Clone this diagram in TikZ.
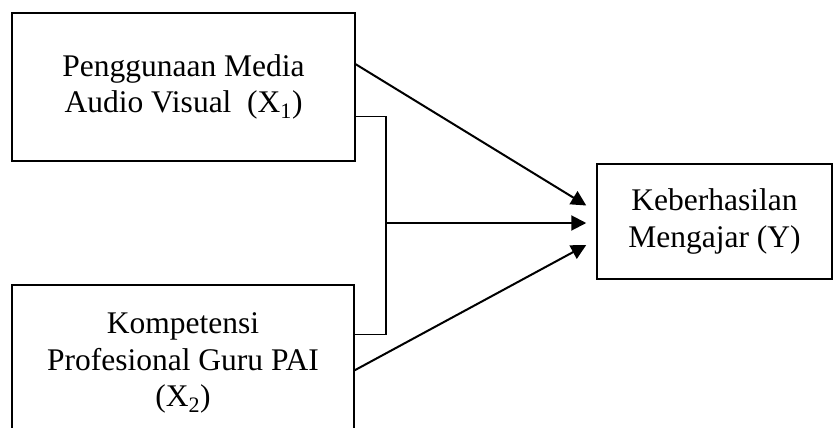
\documentclass[tikz,border=0pt]{standalone}
\usepackage{fontspec}
\setmainfont{Liberation Serif}
\usetikzlibrary{arrows.meta, positioning, calc}

\begin{document}
\begin{tikzpicture}[x=1pt, y=-1pt,
    varbox/.style={draw, line width=1.5pt, align=center, inner sep=0pt,
      font=\fontsize{31.5}{36.5}\selectfont},
    link/.style={line width=2pt, -{Triangle[length=15pt, width=15pt]}},
    bracket/.style={line width=1.3pt}]
  \useasboundingbox (0,0) rectangle (835,428);
  % the three variables
  \node[varbox, minimum width=343pt, minimum height=148pt] (x1) at (183.5,87)
    {Penggunaan Media\\Audio Visual\ \ (X\textsubscript{1})};
  \node[varbox, minimum width=342pt, minimum height=156pt] (x2) at (183,363)
    {Kompetensi\\Profesional Guru PAI\\(X\textsubscript{2})};
  \node[varbox, minimum width=235pt, minimum height=115pt] (y) at (714.5,221.5)
    {Keberhasilan\\Mengajar (Y)};
  % joint effect bracket
  \coordinate (b1) at ($(x1.north east)+(0,104)$);
  \coordinate (b2) at ($(x2.north east)+(0,50)$);
  \coordinate (jn) at (386,223);
  \draw[bracket] (b1) -| (jn) |- (b2);
  % arrows into Y
  \coordinate (t1) at ($(y.west)+(-10,-16)$);
  \coordinate (t2) at ($(y.west)+(-10,1.5)$);
  \coordinate (t3) at ($(y.west)+(-10,23.5)$);
  \draw[link] ($(x1.north east)+(0,52)$) -- (t1);
  \draw[link] (jn) -- (t2);
  \draw[link] ($(x2.north east)+(0,86)$) -- (t3);
\end{tikzpicture}
\end{document}
